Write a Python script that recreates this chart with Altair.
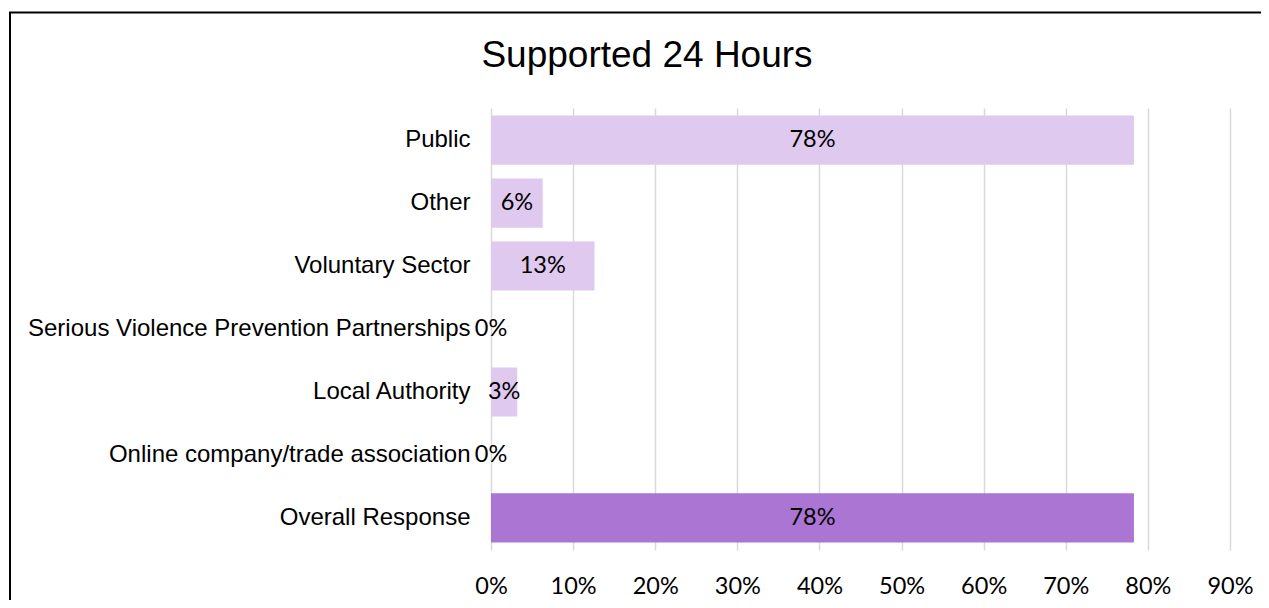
import altair as alt
import pandas as pd

categories = ["Public", "Other", "Voluntary Sector",
              "Serious Violence Prevention Partnerships", "Local Authority",
              "Online company/trade association", "Overall Response"]
values = [0.783, 0.063, 0.126, 0.0, 0.032, 0.0, 0.783]
groups = ["Respondent", "Respondent", "Respondent", "Respondent", "Respondent",
          "Respondent", "Overall"]
x_ticks = [0, 0.1, 0.2, 0.3, 0.4, 0.5, 0.6, 0.7, 0.8, 0.9]
title_text = "Supported 24 Hours"

df = pd.DataFrame({"category": categories, "value": values, "group": groups})

W, H = 739, 442

base = alt.Chart(df)

y_enc = alt.Y("category:N", sort=categories, title=None,
              scale=alt.Scale(paddingInner=0.22, paddingOuter=0.12),
              axis=alt.Axis(labelFont="Liberation Sans", labelFontSize=24,
                            labelColor="#000000", labelPadding=21, ticks=False,
                            domain=False, grid=False, labelLimit=600))

bars = base.mark_bar().encode(
    x=alt.X("value:Q", scale=alt.Scale(domain=[0, 0.9], nice=False), title=None,
            axis=alt.Axis(values=x_ticks, format=".0%", labelFont="Lato",
                          labelFontSize=23.5, labelColor="#000000", labelPadding=24,
                          labelFlush=False, labelOverlap=False,
                          ticks=False, tickSize=0, domain=False, grid=True,
                          gridColor="#d9d9d9", gridWidth=1.5)),
    y=y_enc,
    color=alt.Color("group:N", scale=alt.Scale(domain=["Respondent", "Overall"],
                                               range=["#E0C9EF", "#AB75D3"]),
                    legend=None),
)

labels = base.transform_calculate(mid="datum.value / 2").mark_text(
    font="Lato", fontSize=23.5, color="#000000", baseline="middle", align="center"
).encode(
    x=alt.X("mid:Q"),
    y=alt.Y("category:N", sort=categories),
    text=alt.Text("value:Q", format=".0%"),
)

one = alt.Data(values=[{"t": title_text}])
title = alt.Chart(one).mark_text(
    font="Liberation Sans", fontSize=37, color="#000000", align="center",
    baseline="alphabetic"
).encode(x=alt.value(156), y=alt.value(-41), text="t:N")

left_border = alt.Chart(one).mark_rule(color="#000000", strokeWidth=2).encode(
    x=alt.value(-481), y=alt.value(-96), y2=alt.value(520))
top_border = alt.Chart(one).mark_rule(color="#000000", strokeWidth=2).encode(
    x=alt.value(-482), x2=alt.value(800), y=alt.value(-95.5))

chart = alt.layer(bars, labels, title, left_border, top_border).properties(
    width=W, height=H,
    autosize=alt.AutoSizeParams(type="none"),
    padding={"left": 483, "top": 100, "right": 31, "bottom": 50},
    background="#ffffff",
).configure_view(stroke=None)

chart.save("out.html", embed_options={"renderer": "svg", "actions": False})
